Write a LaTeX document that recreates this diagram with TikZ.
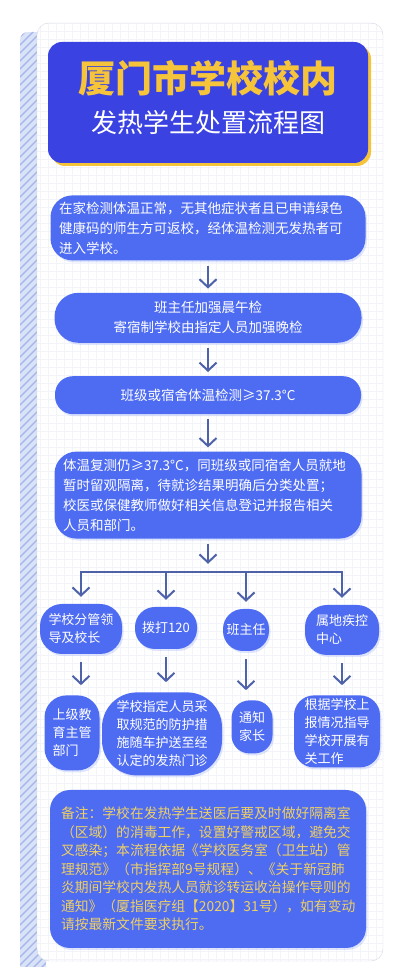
\documentclass[tikz,border=0pt]{standalone}
\usepackage{fontspec}
\setmainfont{Noto Sans CJK SC}
\usetikzlibrary{arrows.meta, positioning, shadows}
\definecolor{colTitle}  {RGB}{ 58,  66, 226}
\definecolor{colBox}    {RGB}{ 78, 108, 242}
\definecolor{colGold}   {RGB}{246, 196,  58}
\definecolor{colNote}   {RGB}{238, 208, 100}
\definecolor{colArrow}  {RGB}{ 78,  98, 170}
\definecolor{colGrid}   {RGB}{242, 244, 249}
\definecolor{colCard}   {RGB}{212, 217, 228}
\definecolor{colStrip}  {RGB}{218, 226, 248}
\definecolor{colStripLn}{RGB}{162, 180, 232}
\tikzset{
  titlebox/.style={
    rectangle, rounded corners=14pt, fill=colTitle,
    minimum width=320pt, minimum height=121pt, inner sep=0pt,
    drop shadow={shadow xshift=3pt, shadow yshift=-3pt, fill=colGold, opacity=1}
  },
  titletext/.style={
    font=\fontsize{37}{44}\selectfont\bfseries, text=colGold, inner sep=0pt
  },
  subtext/.style={
    font=\fontsize{26}{30}\selectfont, text=white, inner sep=0pt
  },
  stepbox/.style={
    rectangle, fill=colBox, text=white,
    font=\fontsize{13.5}{20}\selectfont, inner sep=0pt,
    drop shadow={shadow xshift=1.5pt, shadow yshift=-2pt, opacity=0.25, fill=colBox!70}
  },
  leafbox/.style={
    stepbox, font=\fontsize{13}{18}\selectfont
  },
  notebox/.style={
    stepbox, text=colNote, font=\fontsize{13.8}{18.5}\selectfont
  },
  flowarrow/.style={
    -{Straight Barb[length=8pt, width=17pt]}, line width=2pt, color=colArrow,
    shorten >=4pt, shorten <=5pt
  },
  flowline/.style={
    line width=2pt, color=colArrow, line cap=rect
  },
}

\begin{document}
\begin{tikzpicture}[x=1pt, y=1pt]

\useasboundingbox (0,0) rectangle (400,967);

%% ══════════════════════════════════════════════════════════════
%%  CARD  (striped edge + grid paper)
%% ══════════════════════════════════════════════════════════════
\begin{scope}
  \clip[rounded corners=8pt] (20,-10) rectangle (46,935);
  \fill[colStrip] (20,-10) rectangle (46,935);
  \foreach \i in {-40,-32,...,960}
    \draw[colStripLn, line width=1.1pt] (18,\i) -- (48,\i+30);
\end{scope}
\fill[white, rounded corners=12pt] (37,6) rectangle (383,944);
\begin{scope}
  \clip[rounded corners=12pt] (37,6) rectangle (383,944);
  \draw[colGrid, step=8pt] (37,6) grid (383,944);
\end{scope}
\draw[colCard, rounded corners=12pt] (37,6) rectangle (383,944);

%% ══════════════════════════════════════════════════════════════
%%  TITLE
%% ══════════════════════════════════════════════════════════════
\node[titlebox] (tbox) at (208,864.5) {};
\node[titletext, yshift=24pt] (ttl) at (tbox.center) {厦门市学校校内};
\node[subtext, yshift=-20pt] (sub) at (tbox.center) {发热学生处置流程图};

%% ══════════════════════════════════════════════════════════════
%%  MAIN STEPS  (top → bottom)
%% ══════════════════════════════════════════════════════════════
\node[stepbox, rounded corners=22pt, minimum width=315pt, minimum height=65pt,
      text width=298pt, align=left, below=32pt of tbox] (home)
  {在家检测体温正常，无其他症状者且已申请绿色\\
   健康码的师生方可返校，经体温检测无发热者可\\
   进入学校。};

\node[stepbox, rounded corners=24pt, minimum width=307pt, minimum height=50pt,
      align=center, below=32pt of home] (check)
  {班主任加强晨午检\\寄宿制学校由指定人员加强晚检};

\node[stepbox, rounded corners=18pt, minimum width=306pt, minimum height=38pt,
      below=33pt of check] (temp)
  {班级或宿舍体温检测≥37.3°C};

\node[stepbox, rounded corners=22pt, minimum width=307pt, minimum height=87pt,
      text width=290pt, align=left, below=37pt of temp] (recheck)
  {体温复测仍≥37.3°C，同班级或同宿舍人员就地\\
   暂时留观隔离，待就诊结果明确后分类处置；\\
   校医或保健教师做好相关信息登记并报告相关\\
   人员和部门。};

\draw[flowarrow] (home) -- (check);
\draw[flowarrow] (check) -- (temp);
\draw[flowarrow] (temp) -- (recheck);

%% ══════════════════════════════════════════════════════════════
%%  BRANCHES  (four parties notified)
%% ══════════════════════════════════════════════════════════════
\node[leafbox, rounded corners=22pt, minimum width=82pt, minimum height=50pt,
      align=left, below=65pt of recheck, xshift=-127pt] (lead)
  {学校分管领\\导及校长};
\node[leafbox, rounded corners=20pt, minimum width=62pt, minimum height=42pt,
      below=68pt of recheck, xshift=-42pt] (call)
  {拨打120};
\node[leafbox, rounded corners=20pt, minimum width=46pt, minimum height=42pt,
      below=70pt of recheck, xshift=38pt] (head)
  {班主任};
\node[leafbox, rounded corners=22pt, minimum width=74pt, minimum height=50pt,
      align=left, below=66pt of recheck, xshift=134pt] (cdc)
  {属地疾控\\中心};

\coordinate[below=33pt of recheck] (bar);
\draw[flowarrow, shorten >=8pt] (recheck) -- (bar);
\draw[flowline] (bar -| lead) -- (bar -| cdc);
\foreach \n in {lead,call,head,cdc}
  \draw[flowarrow, shorten <=0pt, shorten >=7pt] (bar -| \n) -- (\n.north);

%% ── second row ──────────────────────────────────────────────
\node[leafbox, rounded corners=22pt, minimum width=55pt, minimum height=75pt,
      align=left, below=41pt of lead, xshift=-9pt] (edu)
  {上级教\\育主管\\部门};
\node[leafbox, rounded corners=35pt, minimum width=120pt, minimum height=83pt,
      align=center, below=43pt of call, xshift=-4pt] (hosp)
  {学校指定人员采\\取规范的防护措\\施随车护送至经\\认定的发热门诊};
\node[leafbox, rounded corners=18pt, minimum width=41pt, minimum height=53pt,
      align=left, below=49pt of head, xshift=6pt] (parent)
  {通知\\家长};
\node[leafbox, rounded corners=20pt, minimum width=86pt, minimum height=72pt,
      align=left, below=40pt of cdc, xshift=-5pt] (guide)
  {根据学校上\\报情况指导\\学校开展有\\关工作};

\foreach \a/\b in {lead/edu, call/hosp, head/parent, cdc/guide}
  \draw[flowarrow, shorten <=8pt, shorten >=10pt] (\a.south) -- (\a.south |- \b.north);

%% ══════════════════════════════════════════════════════════════
%%  NOTE
%% ══════════════════════════════════════════════════════════════
\node[notebox, rounded corners=20pt, minimum width=316pt, minimum height=158pt,
      text width=294pt, align=left] (note) at (208,98)
  {备注：学校在发热学生送医后要及时做好隔离室\\
   （区域）的消毒工作，设置好警戒区域，避免交\\
   叉感染；本流程依据《学校医务室（卫生站）管\\
   理规范》（市指挥部9号规程）、《关于新冠肺\\
   炎期间学校内发热人员就诊转运收治操作导则的\\
   通知》（厦指医疗组【2020】31号），如有变动\\
   请按最新文件要求执行。};

\end{tikzpicture}
\end{document}
